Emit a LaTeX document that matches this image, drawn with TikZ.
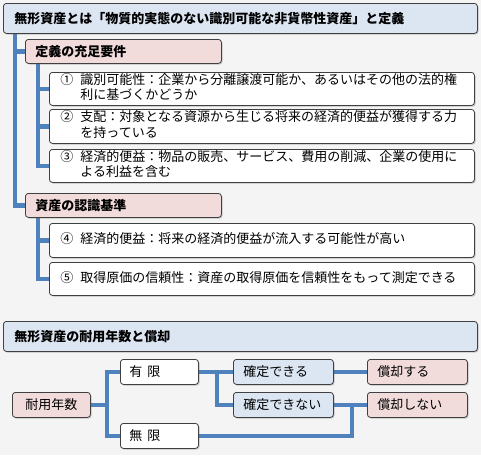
\documentclass[tikz,border=0pt]{standalone}
\usepackage{fontspec}
\newfontfamily\jp{Noto Sans CJK JP}
\usetikzlibrary{shadows}
\definecolor{bgc}{HTML}{F4F4F4}
\definecolor{bluef}{HTML}{DCE6F2}
\definecolor{pinkf}{HTML}{F2DCDB}
\definecolor{linec}{HTML}{4F81BD}
\definecolor{edgec}{HTML}{404040}
\pgfdeclarelayer{bg}
\pgfdeclarelayer{background}
\pgfsetlayers{bg,background,main}
\tikzset{
  box/.style={draw=edgec, line width=0.8pt, rounded corners=3pt, anchor=north west,
    drop shadow={shadow xshift=1.2pt, shadow yshift=-1.2pt, opacity=0.35, fill=black!60},
    font=\jp\fontsize{13}{15}\selectfont, inner sep=0pt},
  titlebox/.style={box, fill=bluef, minimum width=474pt, minimum height=30pt,
    text width=452pt, align=left, font=\jp\bfseries\fontsize{13}{15}\selectfont},
  headbox/.style={box, fill=pinkf, minimum width=196pt, minimum height=24pt,
    text width=176pt, align=left, font=\jp\bfseries\fontsize{13}{15}\selectfont},
  itembox/.style={box, fill=white, minimum width=425pt, text width=403pt, align=left},
  smallbox/.style={box, minimum width=78pt, minimum height=25pt, text width=60pt, align=left},
  widebox/.style={box, minimum width=100pt, minimum height=25pt, text width=80pt, align=left},
  conn/.style={draw=linec, line width=4.5pt},
}
\newcommand{\itemtext}[3]{\begin{tabular}{@{}l@{\hspace{7pt}}l@{}}#1 & #2\\ & #3\end{tabular}}
\newcommand{\itemone}[2]{\begin{tabular}{@{}l@{\hspace{7pt}}l@{}}#1 & #2\end{tabular}}
\begin{document}
\begin{tikzpicture}[x=1pt,y=-1pt]
\useasboundingbox (0,0) rectangle (481,455);
\begin{pgfonlayer}{bg}
\fill[bgc] (0,0) rectangle (481,455);
\end{pgfonlayer}
% top section
\node[titlebox] (title) at (3,3) {無形資産とは「物質的実態のない識別可能な非貨幣性資産」と定義};
\node[headbox] (req) at (25,39) {定義の充足要件};
\node[itembox, minimum height=33pt] (i1) at (49,72) {\itemtext{①}{識別可能性：企業から分離譲渡可能か、あるいはその他の法的権}{利に基づくかどうか}};
\node[itembox, minimum height=34pt] (i2) at (49,109) {\itemtext{②}{支配：対象となる資源から生じる将来の経済的便益が獲得する力}{を持っている}};
\node[itembox, minimum height=33pt] (i3) at (49,149) {\itemtext{③}{経済的便益：物品の販売、サービス、費用の削減、企業の使用に}{よる利益を含む}};
\node[headbox] (rec) at (25,193) {資産の認識基準};
\node[itembox, minimum height=34pt] (i4) at (49,223) {\itemone{④}{経済的便益：将来の経済的便益が流入する可能性が高い}};
\node[itembox, minimum height=33pt] (i5) at (49,262) {\itemone{⑤}{取得原価の信頼性：資産の取得原価を信頼性をもって測定できる}};
\coordinate (xa) at (15,0);
\coordinate (xb) at (38,0);
% bottom section
\node[titlebox] (title2) at (3,321) {無形資産の耐用年数と償却};
\node[smallbox, fill=pinkf, align=center] (dur) at (12,392) {耐用年数};
\node[smallbox, fill=white] (fin) at (120,359) {有\hspace{5pt}限};
\node[smallbox, fill=white] (inf) at (120,423) {無\hspace{5pt}限};
\node[widebox, fill=bluef] (c1) at (233,359) {確定できる};
\node[widebox, fill=bluef] (c2) at (233,392) {確定できない};
\node[widebox, fill=pinkf] (a1) at (367,359) {償却する};
\node[widebox, fill=pinkf] (a2) at (367,392) {償却しない};
\coordinate (xc) at (107,0);
\coordinate (xd) at (217,0);
\coordinate (xe) at (352,0);
\begin{pgfonlayer}{background}
\draw[conn] (xa |- title.south) |- (rec.west);
\draw[conn] (xa |- req.west) -- (req.west);
\draw[conn] (xb |- req.south) |- (i3.west);
\draw[conn] (xb |- i1.west) -- (i1.west);
\draw[conn] (xb |- i2.west) -- (i2.west);
\draw[conn] (xb |- rec.south) |- (i5.west);
\draw[conn] (xb |- i4.west) -- (i4.west);
\draw[conn] (dur.east) -- (xc |- dur.east);
\draw[conn] (fin.west) -| (xc |- inf.west) -- (inf.west);
\draw[conn] (fin.east) -- (c1.west);
\draw[conn] (xd |- c1.west) |- (c2.west);
\draw[conn] (c1.east) -- (a1.west);
\draw[conn] (c2.east) -- (a2.west);
\draw[conn] (inf.east) -| (xe |- a2.west);
\end{pgfonlayer}
\end{tikzpicture}
\end{document}
